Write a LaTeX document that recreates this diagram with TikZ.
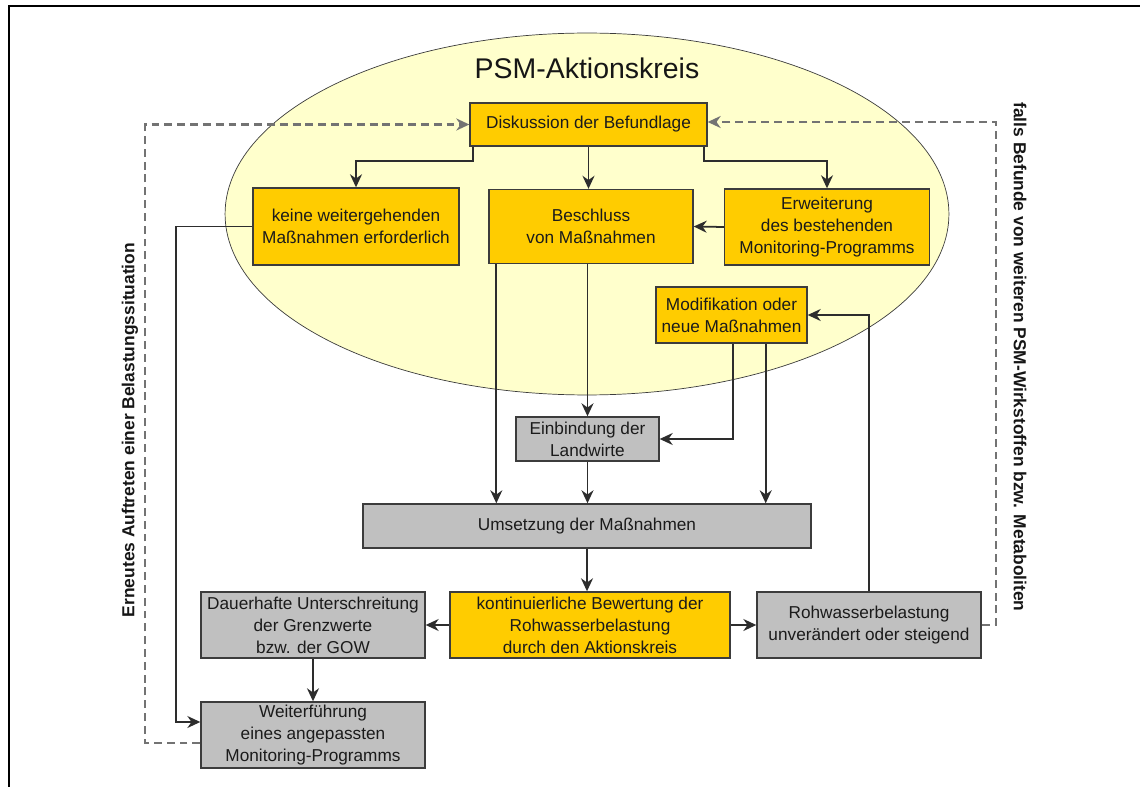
\documentclass[tikz,border=0pt]{standalone}
\usepackage{fontspec}
\setmainfont{Liberation Sans}
\usetikzlibrary{arrows.meta,positioning,calc}
\definecolor{gold}{RGB}{255,204,0}
\definecolor{silver}{RGB}{192,192,192}
\definecolor{cream}{RGB}{255,255,204}
\definecolor{ink}{RGB}{45,45,45}
\definecolor{rim}{RGB}{60,60,60}
\definecolor{dashgray}{RGB}{115,115,115}
\tikzset{
  >={Stealth[length=2.6mm,width=2.4mm]},
  box/.style={draw=rim,fill=#1,thick,align=center,inner sep=1pt,
    font=\fontsize{9.8}{12.6}\selectfont,text=ink!60!black},
  box/.default=gold,
  flow/.style={->,line width=1pt,draw=#1},
  flow/.default=ink,
  back/.style={->,line width=1.2pt,dash pattern=on 4.5pt off 2.8pt,draw=dashgray},
  tag/.style={font=\fontsize{9.9}{12}\selectfont\bfseries,text=ink!50!black},
}
\begin{document}
\begin{tikzpicture}[x=0.02cm,y=-0.02cm]
  \useasboundingbox (0,0) rectangle (1140,787);
  \draw[thick] (9,787) -- (9,6) -- (1140,6);
  % Aktionskreis
  \draw[rim,fill=cream] (587,214) ellipse [x radius=7.24cm,y radius=3.62cm];
  \node[font=\fontsize{16.2}{19}\selectfont,text=ink!50!black] (title) at (587,68) {PSM-Aktionskreis};
  % boxes
  \node[box,minimum width=4.74cm,minimum height=0.86cm] (disk) at (588.5,124.5) {Diskussion der Befundlage};
  \node[box,minimum width=4.12cm,minimum height=1.54cm] (keine) at (356,226.5) {keine weitergehenden\\Maßnahmen erforderlich};
  \node[box,minimum width=4.08cm,minimum height=1.48cm] (beschl) at (591,226.5) {Beschluss\\von Maßnahmen};
  \node[box,minimum width=4.10cm,minimum height=1.52cm] (erw) at (827,227) {Erweiterung\\des bestehenden\\Monitoring-Programms};
  \node[box,minimum width=3.02cm,minimum height=1.12cm] (modif) at (731.5,315) {Modifikation oder\\neue Maßnahmen};
  \node[box=silver,minimum width=2.86cm,minimum height=0.88cm] (einb) at (587.5,439) {Einbindung der\\Landwirte};
  \node[box=silver,minimum width=8.96cm,minimum height=0.88cm] (umsetz) at (587,526) {Umsetzung der Maßnahmen};
  \node[box,minimum width=5.6cm,minimum height=1.32cm] (kont) at (590,625) {kontinuierliche Bewertung der\\Rohwasserbelastung\\durch den Aktionskreis};
  \node[box=silver,minimum width=4.48cm,minimum height=1.32cm] (rohw) at (869,625) {Rohwasserbelastung\\unverändert oder steigend};
  \node[box=silver,minimum width=4.48cm,minimum height=1.32cm] (dauer) at (313,625) {Dauerhafte Unterschreitung\\der Grenzwerte\\bzw. der GOW};
  \node[box=silver,minimum width=4.48cm,minimum height=1.32cm] (weiter) at (313,735) {Weiterführung\\eines angepassten\\Monitoring-Programms};
  % side labels
  \node[tag,rotate=90] (lnote) at (130,430) {Erneutes Auftreten einer Belastungssituation};
  \node[tag,rotate=-90] (rnote) at (1020,357) {falls Befunde von weiteren PSM-Wirkstoffen bzw. Metaboliten};
  % connectors
  \draw[flow] ([xshift=0.08cm]disk.south west) -- ++(0,14) -| (keine);
  \draw[flow] ([xshift=-0.08cm]disk.south east) -- ++(0,14) -| (erw);
  \draw[flow] (disk.south) -- (disk.south |- beschl.north);
  \draw[flow] (erw.west) -- (beschl.east);
  \draw[flow] ([xshift=0.16cm]beschl.south west) -- ([xshift=0.16cm]beschl.south west |- umsetz.north);
  \draw[flow] (einb.north |- beschl.south) -- (einb.north);
  \draw[flow] (einb.south) -- (einb.south |- umsetz.north);
  \draw[flow] ([xshift=0.03cm]modif.south) |- (einb.east);
  \draw[flow] ([xshift=-0.84cm]modif.south east) -- ([xshift=-0.84cm]modif.south east |- umsetz.north);
  \draw[flow] (umsetz.south) -- (umsetz.south |- kont.north);
  \draw[flow] (kont.west) -- (dauer.east);
  \draw[flow] (kont.east) -- (rohw.west);
  \draw[flow] (rohw.north) |- (modif.east);
  \draw[flow] (dauer) -- (weiter);
  \draw[flow] (keine.west) -- ++(-76,0) |- ([yshift=0.26cm]weiter.west);
  % feedback
  \draw[back] ([yshift=-0.16cm]weiter.west) -- ++(-55,0) |- (disk.west);
  \draw[back] (rohw.east) -- ++(14,0) |- ([yshift=0.05cm]disk.east);
\end{tikzpicture}
\end{document}
